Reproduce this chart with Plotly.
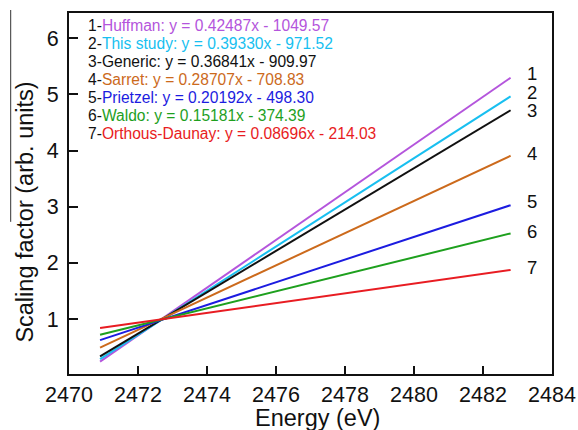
import plotly.graph_objects as go

# ---- data ----
series_names = ["Huffman", "This study", "Generic", "Sarret", "Prietzel", "Waldo", "Orthous-Daunay"]
equations = ["y = 0.42487x - 1049.57", "y = 0.39330x - 971.52", "y = 0.36841x - 909.97",
             "y = 0.28707x - 708.83", "y = 0.20192x - 498.30", "y = 0.15181x - 374.39",
             "y = 0.08696x - 214.03"]
energy_ends = [2470.9, 2482.8]
y_start = [0.241, 0.285, 0.334, 0.491, 0.624, 0.718, 0.839]
y_end = [5.297, 4.965, 4.718, 3.907, 3.027, 2.524, 1.874]
number_labels = ["1", "2", "3", "4", "5", "6", "7"]
x_ticks = [2470, 2472, 2474, 2476, 2478, 2480, 2482, 2484]
y_ticks = [1, 2, 3, 4, 5, 6]

# ---- styles / positions ----
colors = ["#b455dc", "#18bff0", "#111111", "#cc6a1c", "#1c1ce0", "#1ea01e", "#e81c22"]
name_colors = ["#b455dc", "#18bff0", "#111111", "#cc6a1c", "#1c1ce0", "#1ea01e", "#e81c22"]
label_y = [5.38, 5.03, 4.71, 3.94, 3.09, 2.56, 1.91]
FONT = "Liberation Sans, Arial, sans-serif"

fig = go.Figure()
for i, name in enumerate(series_names):
    fig.add_trace(go.Scatter(
        x=energy_ends, y=[y_start[i], y_end[i]], mode="lines",
        line=dict(color=colors[i], width=2), name=name, showlegend=False,
        hoverinfo="skip"))

annotations = []
# equation list, top-left
for i, name in enumerate(series_names):
    annotations.append(dict(
        x=2470.48, y=6.219 - i * 0.318, xref="x", yref="y",
        text=f"<span style='color:#111111'>{number_labels[i]}-</span>"
             f"<span style='color:{name_colors[i]}'>{name}: {equations[i]}</span>",
        showarrow=False, xanchor="left", yanchor="middle",
        font=dict(family=FONT, size=15.6, color="#111111")))
# numbers at line ends
for i, lab in enumerate(number_labels):
    annotations.append(dict(
        x=2483.41, y=label_y[i], xref="x", yref="y", text=lab, showarrow=False,
        xanchor="center", yanchor="middle", borderpad=0,
        font=dict(family=FONT, size=18.5, color="#111111")))
# axis titles
annotations.append(dict(
    x=0.5155, y=-0.121, xref="paper", yref="paper", text="Energy (eV)", showarrow=False,
    xanchor="center", yanchor="middle", borderpad=0,
    font=dict(family=FONT, size=23.5, color="#111111")))
annotations.append(dict(
    x=-0.0917, y=0.449, xref="paper", yref="paper", text="Scaling factor (arb. units)",
    showarrow=False, textangle=-90, xanchor="center", yanchor="middle",
    font=dict(family=FONT, size=23.5, color="#111111")))

fig.update_layout(
    width=578, height=430,
    margin=dict(l=69, r=26, t=13, b=56, autoexpand=False),
    paper_bgcolor="white", plot_bgcolor="white",
    font=dict(family=FONT, color="#111111"),
    annotations=annotations,
    shapes=[dict(type="line", xref="paper", yref="paper", x0=-0.1207, x1=-0.1207,
                 y0=1.0083, y1=0.4215, line=dict(color="#333333", width=1))],
)
fig.update_xaxes(range=[2470, 2484], tickvals=x_ticks, ticks="inside", ticklen=8,
                 tickwidth=1.5, tickcolor="#111111", showgrid=False, zeroline=False,
                 showline=True, linecolor="#111111", linewidth=2, mirror=True,
                 automargin=False,
                 tickfont=dict(family=FONT, size=21.5, color="#111111"))
fig.update_yaxes(range=[0.02, 6.45], tickvals=y_ticks, ticks="inside", ticklen=9,
                 tickwidth=1.5, tickcolor="#111111", showgrid=False, zeroline=False,
                 showline=True, linecolor="#111111", linewidth=2, mirror=True,
                 ticklabelstandoff=4, automargin=False,
                 tickfont=dict(family=FONT, size=21.5, color="#111111"))

fig.write_html("out.html", config={"displayModeBar": False},
               post_script="document.body.style.margin='0';document.body.style.overflow='hidden';")
